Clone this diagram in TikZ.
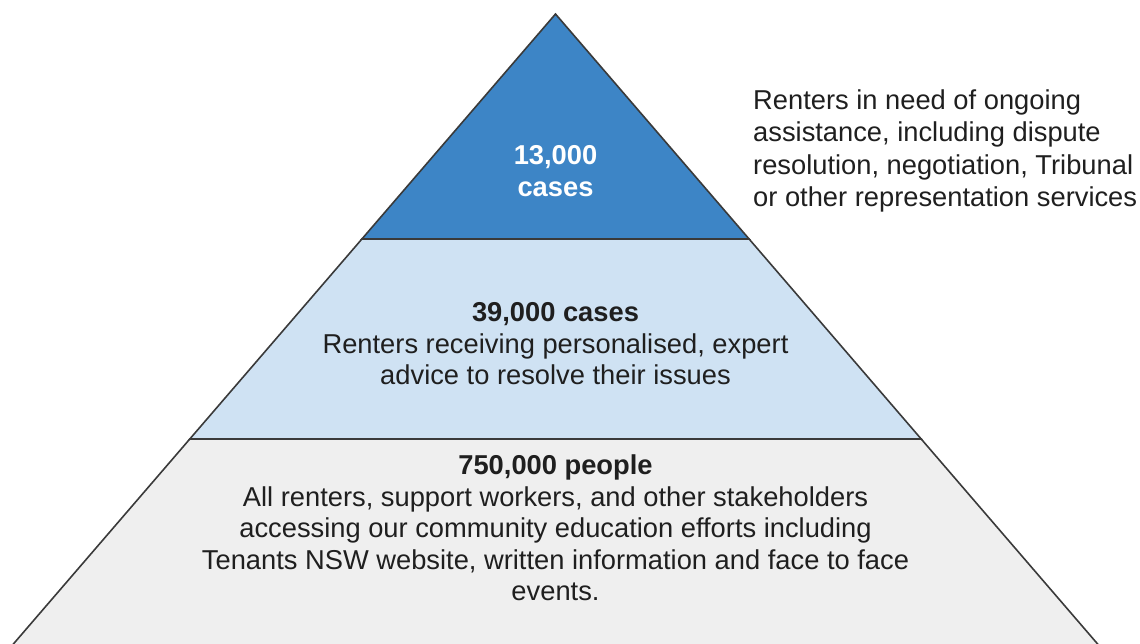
\documentclass[tikz,border=0pt]{standalone}
\usepackage{fontspec}
\setmainfont{Liberation Sans}
\definecolor{topblue}{HTML}{3D85C6}
\definecolor{midblue}{HTML}{CFE2F3}
\definecolor{basegray}{HTML}{EFEFEF}
\definecolor{edgegray}{HTML}{3A3A3A}
\definecolor{ink}{HTML}{1F1F1F}
\begin{document}
\begin{tikzpicture}[x=1pt,y=-1pt,
  band/.style={draw=edgegray,line width=1.6pt,line join=miter},
  tier/.style={font=\fontsize{27.3}{31.5}\selectfont,text=ink,align=center,inner sep=0pt},
  note/.style={font=\fontsize{27.3}{32.5}\selectfont,text=ink,align=left,inner sep=0pt}]
\useasboundingbox (0,0) rectangle (1140,643);
\begin{scope}
\clip (0,0) rectangle (1140,643);
% apex (555.5,14); sides slope 0.8605 px per px
\coordinate (apex) at (555.5,14);
\coordinate (l1) at (361.9,239);
\coordinate (r1) at (749.1,239);
\coordinate (l2) at (189.8,439);
\coordinate (r2) at (921.2,439);
\coordinate (l3) at (-0.4,660);
\coordinate (r3) at (1111.4,660);
% base tier
\filldraw[band,fill=basegray] (l2) -- (r2) -- (r3) -- (l3) -- cycle;
% middle tier
\filldraw[band,fill=midblue] (l1) -- (r1) -- (r2) -- (l2) -- cycle;
% top tier
\filldraw[band,fill=topblue] (apex) -- (r1) -- (l1) -- cycle;
\end{scope}
% tier labels
\node[tier,text=white,font=\fontsize{27.3}{31.5}\selectfont\bfseries] (toptext) at (555.5,171) {13,000\\cases};
\node[tier] (midtext) at (555.5,344) {\textbf{39,000 cases}\\Renters receiving personalised, expert\\advice to resolve their issues};
\node[tier] (basetext) at (555.5,528) {\textbf{750,000 people}\\All renters, support workers, and other stakeholders\\accessing our community education efforts including\\Tenants NSW website, written information and face to face\\events.};
% side note for the top tier
\node[note,anchor=west] (sidenote) at (753,151) {Renters in need of ongoing\\assistance, including dispute\\resolution, negotiation, Tribunal\\or other representation services};
\end{tikzpicture}
\end{document}
